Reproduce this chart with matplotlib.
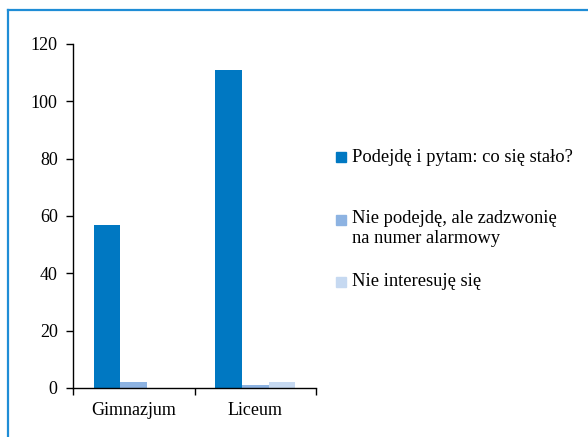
import numpy as np
import matplotlib
matplotlib.use("Agg")
from matplotlib import pyplot as plt
from matplotlib.patches import Rectangle
from matplotlib.lines import Line2D

categories = ["Gimnazjum", "Liceum"]
series_names = ["Podejdę i pytam: co się stało?",
                "Nie podejdę, ale zadzwonię\nna numer alarmowy",
                "Nie interesuję się"]
values = [[57, 111], [2, 1], [0, 2]]
colors = ["#0078c2", "#8db3e2", "#c6d9f1"]
yticks = [0, 20, 40, 60, 80, 100, 120]

plt.rcParams["font.family"] = ["Liberation Serif", "DejaVu Serif"]

W, H = 588, 437
fig = plt.figure(figsize=(W / 100, H / 100), dpi=100)
ax = fig.add_axes([73 / W, 49 / H, (316 - 73) / W, (388 - 44) / H])

x = np.arange(len(categories))
bw = 0.22
for i, vals in enumerate(values):
    ax.bar(x + (i - 1) * bw, vals, width=bw, color=colors[i], linewidth=0)

ax.set_xlim(-0.5, 1.5)
ax.set_ylim(0, 120)
ax.set_yticks(yticks)
ax.set_xticks([-0.5, 0.5, 1.5], minor=False)
ax.set_xticklabels([])
ax.set_xticks(x, minor=True)
ax.set_xticklabels(categories, minor=True)
ax.tick_params(axis="x", which="minor", length=0, labelsize=13, pad=10)
ax.tick_params(axis="x", which="major", length=5, direction="out", width=1)
ax.tick_params(axis="y", length=5, direction="out", width=1, labelsize=13, pad=6)
for s in ["top", "right"]:
    ax.spines[s].set_visible(False)
for s in ["left", "bottom"]:
    ax.spines[s].set_linewidth(1)

# legend drawn by hand so the square sits on the first text line
ly = [157, 220, 282]
for i, name in enumerate(series_names):
    fig.patches.append(Rectangle((336 / W, 1 - (ly[i] + 5) / H), 10 / W, 10 / H,
                                 transform=fig.transFigure, color=colors[i]))
    fig.text(352 / W, 1 - ly[i] / H, name, fontsize=13.3, va="center" if i != 1 else "top",
             linespacing=1.2)
fig.texts[1].set_position((352 / W, 1 - (ly[1] - 10) / H))

# frame around the picture
fig.add_artist(Line2D([8 / W, 1], [1 - 10 / H, 1 - 10 / H], transform=fig.transFigure,
                      color="#1f8dd6", linewidth=1.6))
fig.add_artist(Line2D([8 / W, 8 / W], [0, 1 - 10 / H], transform=fig.transFigure,
                      color="#1f8dd6", linewidth=1.6))

fig.savefig("out.png", dpi=100)
